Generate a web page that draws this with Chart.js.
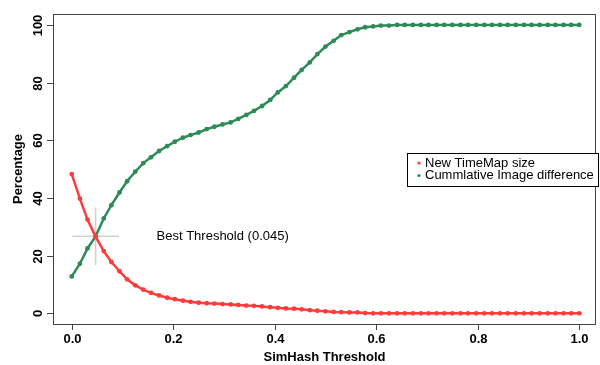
<!DOCTYPE html>
<html>
<head>
<meta charset="utf-8">
<script src="https://cdn.jsdelivr.net/npm/chart.js@4.4.0/dist/chart.umd.min.js"></script>
<style>
  html, body { margin: 0; padding: 0; background: #fff; }
  #wrap { width: 600px; height: 365px; position: relative; }
</style>
</head>
<body>
<div id="wrap"><canvas id="chart"></canvas></div>
<script>
// SimHash threshold values (x)
const thresholds = [
  0.000, 0.016, 0.031, 0.047, 0.063, 0.078, 0.094, 0.109, 0.125, 0.141,
  0.156, 0.172, 0.188, 0.203, 0.219, 0.234, 0.250, 0.266, 0.281, 0.297,
  0.313, 0.328, 0.344, 0.359, 0.375, 0.391, 0.406, 0.422, 0.438, 0.453,
  0.469, 0.484, 0.500, 0.516, 0.531, 0.547, 0.563, 0.578, 0.594, 0.609,
  0.625, 0.641, 0.656, 0.672, 0.688, 0.703, 0.719, 0.734, 0.750, 0.766,
  0.781, 0.797, 0.813, 0.828, 0.844, 0.859, 0.875, 0.891, 0.906, 0.922,
  0.938, 0.953, 0.969, 0.984, 1.000
];

const timemapSize = [
  48.3, 39.8, 32.5, 26.6, 21.6, 17.8, 14.6, 11.8, 9.7, 8.2,
  7.1, 6.2, 5.4, 4.9, 4.4, 4.0, 3.7, 3.5, 3.4, 3.2,
  3.1, 2.9, 2.7, 2.6, 2.4, 2.1, 1.9, 1.7, 1.6, 1.4,
  1.1, 0.9, 0.7, 0.5, 0.4, 0.3, 0.3, 0.1, 0, 0,
  0, 0, 0, 0, 0, 0, 0, 0, 0, 0,
  0, 0, 0, 0, 0, 0, 0, 0, 0, 0,
  0, 0, 0, 0, 0
];

const imageDiff = [
  12.8, 17.2, 22.5, 26.7, 32.9, 37.5, 41.9, 45.8, 49.1, 52.1,
  54.1, 56.3, 58.0, 59.5, 60.9, 61.8, 62.7, 63.9, 64.7, 65.5,
  66.2, 67.4, 68.8, 70.2, 71.9, 74.0, 76.6, 78.8, 81.7, 84.4,
  87.0, 89.9, 92.5, 94.5, 96.5, 97.5, 98.5, 99.2, 99.5, 99.8,
  99.8, 100, 100, 100, 100, 100, 100, 100, 100, 100,
  100, 100, 100, 100, 100, 100, 100, 100, 100, 100,
  100, 100, 100, 100, 100
];

const xTicks = [0, 0.2, 0.4, 0.6, 0.8, 1.0];
const yTicks = [0, 20, 40, 60, 80, 100];
const seriesNames = ['New TimeMap size', 'Cummlative Image difference'];

const bestX = 0.047;
const bestY = 26.7;
const bestLabel = 'Best Threshold (0.045)';

const RED = '#ff3b3b';
const GREEN = '#2e8b57';

const toPoints = ys => ys.map((y, i) => ({ x: thresholds[i], y }));

// R-style frame, ticks, labels, crosshair and legend
const rPlot = {
  id: 'rPlot',
  beforeDatasetsDraw(chart) {
    const { ctx, scales: { x, y } } = chart;
    // crosshair
    ctx.save();
    ctx.strokeStyle = '#d0d0d0';
    ctx.lineWidth = 1.5;
    ctx.beginPath();
    ctx.moveTo(x.getPixelForValue(bestX - 0.046), y.getPixelForValue(bestY));
    ctx.lineTo(x.getPixelForValue(bestX + 0.046), y.getPixelForValue(bestY));
    ctx.moveTo(x.getPixelForValue(bestX), y.getPixelForValue(bestY - 10));
    ctx.lineTo(x.getPixelForValue(bestX), y.getPixelForValue(bestY + 10));
    ctx.stroke();
    ctx.restore();
  },
  afterDraw(chart) {
    const { ctx, chartArea: a, scales: { x, y } } = chart;
    ctx.save();
    ctx.strokeStyle = '#444';
    ctx.lineWidth = 1;
    ctx.strokeRect(a.left + 0.5, a.top + 0.5, a.right - a.left - 1, a.bottom - a.top);

    ctx.fillStyle = '#000';
    ctx.font = 'bold 13px "Liberation Sans", Arial, sans-serif';
    ctx.textAlign = 'center';
    ctx.textBaseline = 'middle';
    ctx.beginPath();
    xTicks.forEach(v => {
      const px = Math.round(x.getPixelForValue(v)) + 0.5;
      ctx.moveTo(px, a.bottom);
      ctx.lineTo(px, a.bottom + 6);
      ctx.fillText(v.toFixed(1), px, a.bottom + 15);
    });
    yTicks.forEach(v => {
      const py = Math.round(y.getPixelForValue(v)) + 0.5;
      ctx.moveTo(a.left, py);
      ctx.lineTo(a.left - 6, py);
      ctx.save();
      ctx.translate(a.left - 15, py);
      ctx.rotate(-Math.PI / 2);
      ctx.fillText(String(v), 0, 0);
      ctx.restore();
    });
    ctx.stroke();

    // axis titles
    ctx.fillText('SimHash Threshold', (a.left + a.right) / 2, a.bottom + 33);
    ctx.save();
    ctx.translate(18, (a.top + a.bottom) / 2);
    ctx.rotate(-Math.PI / 2);
    ctx.fillText('Percentage', 0, 0);
    ctx.restore();

    // annotation
    ctx.font = '13px "Liberation Sans", Arial, sans-serif';
    ctx.textAlign = 'left';
    ctx.fillText(bestLabel, x.getPixelForValue(0.167), y.getPixelForValue(bestY));

    // legend
    const lx = 407, ly = 153, lw = 191, lh = 33;
    ctx.fillStyle = '#fff';
    ctx.fillRect(lx, ly, lw, lh);
    ctx.strokeStyle = '#000';
    ctx.strokeRect(lx + 0.5, ly + 0.5, lw, lh);
    ctx.font = '13px "Liberation Sans", Arial, sans-serif';
    [RED, GREEN].forEach((c, i) => {
      const ty = ly + 10 + i * 12.5;
      ctx.fillStyle = c;
      ctx.beginPath();
      ctx.arc(lx + 12, ty, 1.6, 0, Math.PI * 2);
      ctx.fill();
      ctx.fillStyle = '#000';
      ctx.fillText(seriesNames[i], lx + 18, ty);
    });
    ctx.restore();
  }
};

new Chart(document.getElementById('chart'), {
  type: 'line',
  data: {
    datasets: [
      {
        label: seriesNames[0],
        data: toPoints(timemapSize),
        borderColor: RED,
        backgroundColor: RED,
        borderWidth: 2.5,
        pointRadius: 2.4,
        pointBorderWidth: 0,
        tension: 0
      },
      {
        label: seriesNames[1],
        data: toPoints(imageDiff),
        borderColor: GREEN,
        backgroundColor: GREEN,
        borderWidth: 2.5,
        pointRadius: 2.4,
        pointBorderWidth: 0,
        tension: 0
      }
    ]
  },
  options: {
    responsive: true,
    maintainAspectRatio: false,
    animation: false,
    layout: { padding: { left: 53, top: 14, right: 2, bottom: 41 } },
    scales: {
      x: { type: 'linear', min: -0.037, max: 1.033, display: false },
      y: { type: 'linear', min: -3.7, max: 103.8, display: false }
    },
    plugins: {
      legend: { display: false },
      tooltip: { enabled: false }
    }
  },
  plugins: [rPlot]
});
</script>
</body>
</html>
